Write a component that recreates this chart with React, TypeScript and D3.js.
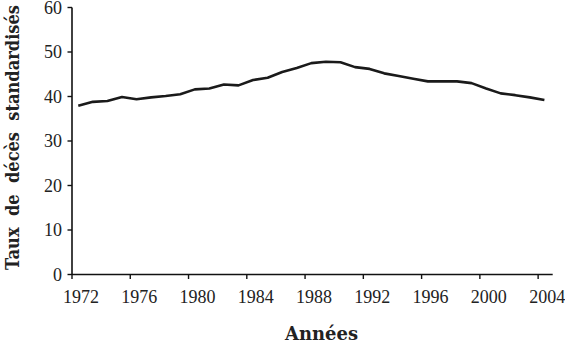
import React from "react";
import * as d3 from "d3";

const years: number[] = [
  1972, 1973, 1974, 1975, 1976, 1977, 1978, 1979, 1980, 1981, 1982,
  1983, 1984, 1985, 1986, 1987, 1988, 1989, 1990, 1991, 1992, 1993,
  1994, 1995, 1996, 1997, 1998, 1999, 2000, 2001, 2002, 2003, 2004,
];
const rates: number[] = [
  37.9, 38.8, 39.0, 39.9, 39.4, 39.8, 40.1, 40.5, 41.6, 41.8, 42.7,
  42.5, 43.7, 44.2, 45.5, 46.4, 47.5, 47.8, 47.7, 46.6, 46.2, 45.2,
  44.6, 44.0, 43.4, 43.4, 43.4, 43.0, 41.8, 40.7, 40.3, 39.8, 39.2,
];
const xTicks: number[] = [1972, 1976, 1980, 1984, 1988, 1992, 1996, 2000, 2004];
const yTicks: number[] = [0, 10, 20, 30, 40, 50, 60];
const xTitle = "Années";
const yTitle = "Taux  de  décès  standardisés";

export default function App() {
  const W = 565;
  const H = 348;
  const x = d3.scaleLinear().domain([1972, 2005]).range([72, 552.7]);
  const y = d3.scaleLinear().domain([0, 60]).range([274.5, 7.5]);
  const pts: [number, number][] = years.map((yr, i) => [yr + 0.43, rates[i]]);
  const line = d3
    .line<[number, number]>()
    .x((d) => x(d[0]))
    .y((d) => y(d[1]))
    .curve(d3.curveLinear);

  const tickFont = "'Liberation Serif', serif";
  const titleFont = "'DejaVu Serif', serif";
  const x0 = x(1972);
  const y0 = y(0);

  return (
    <svg
      width={W}
      height={H}
      style={{ position: "absolute", left: 0, top: 0, background: "#fff" }}
    >
      <line x1={x0} x2={x0} y1={y(60)} y2={y0} stroke="#111" strokeWidth={1.6} />
      <line x1={x0} x2={x(2005)} y1={y0} y2={y0} stroke="#111" strokeWidth={1.6} />
      {yTicks.map((t) => (
        <g key={"y" + t}>
          <line x1={x0 - 4.5} x2={x0} y1={y(t)} y2={y(t)} stroke="#111" strokeWidth={1.4} />
          <text
            x={x0 - 10}
            y={y(t)}
            dy="0.34em"
            textAnchor="end"
            fontFamily={tickFont}
            fontSize={18}
            fill="#222"
          >
            {t}
          </text>
        </g>
      ))}
      {xTicks.map((t) => (
        <g key={"x" + t}>
          <line x1={x(t)} x2={x(t)} y1={y0} y2={y0 + 4.5} stroke="#111" strokeWidth={1.4} />
          <text
            x={x(t) + 9}
            y={303}
            textAnchor="middle"
            fontFamily={tickFont}
            fontSize={18}
            fill="#222"
          >
            {t}
          </text>
        </g>
      ))}
      <path d={line(pts) || ""} fill="none" stroke="#1a1a1a" strokeWidth={2.6} strokeLinejoin="round" />
      <text
        x={321.5}
        y={340}
        textAnchor="middle"
        fontFamily={titleFont}
        fontWeight="bold"
        fontSize={18}
        fill="#222"
        textLength={73}
        lengthAdjust="spacingAndGlyphs"
      >
        {xTitle}
      </text>
      <text
        transform={`translate(19,${137.5}) rotate(-90)`}
        textAnchor="middle"
        fontFamily={titleFont}
        fontWeight="bold"
        fontSize={19}
        fill="#222"
        textLength={265}
        lengthAdjust="spacingAndGlyphs"
        style={{ whiteSpace: "pre" }}
      >
        {yTitle}
      </text>
    </svg>
  );
}
